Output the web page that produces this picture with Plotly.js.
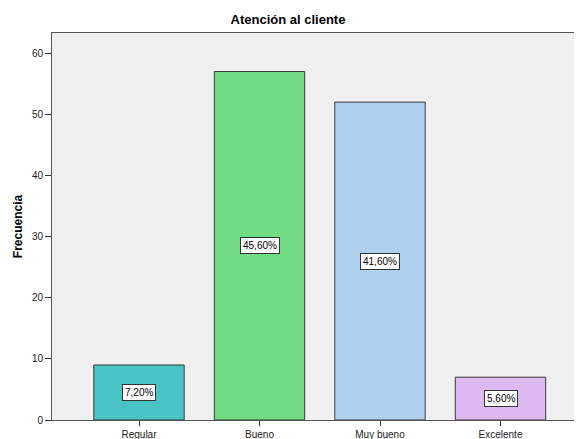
<!DOCTYPE html>
<html>
<head>
<meta charset="utf-8">
<script src="https://cdn.plot.ly/plotly-3.0.1.min.js"></script>
<style>html,body{margin:0;padding:0;background:#fff}#chart{width:576px;height:439px}</style>
</head>
<body>
<div id="chart"></div>
<script>
const categories = ["Regular", "Bueno", "Muy bueno", "Excelente"];
const frequencies = [9, 57, 52, 7];
const percentLabels = ["7,20%", "45,60%", "41,60%", "5,60%"];
const barColors = ["#48C3C6", "#70DD84", "#AED0EE", "#DDB9F1"];

const trace = {
  type: "bar",
  x: categories,
  y: frequencies,
  width: 0.75,
  marker: {color: barColors, line: {color: "#3a3a3a", width: 1}},
  hoverinfo: "none"
};

const annotations = categories.map((c, i) => ({
  x: c, y: frequencies[i] / 2, xref: "x", yref: "y",
  text: percentLabels[i], showarrow: false,
  bgcolor: "#ffffff", bordercolor: "#333333", borderwidth: 1, borderpad: 2,
  font: {family: "Liberation Sans, Arial, sans-serif", size: 10, color: "#000"}
}));

const layout = {
  width: 576, height: 439,
  margin: {l: 52, r: 2, t: 33, b: 19},
  paper_bgcolor: "#ffffff",
  plot_bgcolor: "#F0F0F0",
  showlegend: false,
  title: {text: "Atención al cliente", x: 0.5, xanchor: "center", y: 0.955, yanchor: "middle",
          font: {family: "Liberation Sans, Arial, sans-serif", size: 13, color: "#000", weight: "bold"}},
  xaxis: {
    type: "category", range: [-0.722, 3.61],
    showline: true, linecolor: "#555", linewidth: 1, mirror: true,
    ticks: "outside", ticklen: 5, tickcolor: "#333",
    showgrid: false, zeroline: false,
    tickfont: {family: "Liberation Sans, Arial, sans-serif", size: 10, color: "#222"}
  },
  yaxis: {
    range: [0, 63.3],
    tickvals: [0, 10, 20, 30, 40, 50, 60],
    showline: true, linecolor: "#555", linewidth: 1,
    ticks: "outside", ticklen: 6, tickcolor: "#333",
    showgrid: false, zeroline: false,
    tickfont: {family: "Liberation Sans, Arial, sans-serif", size: 10, color: "#222"},
    title: {text: "Frecuencia", standoff: 6,
            font: {family: "Liberation Sans, Arial, sans-serif", size: 12, color: "#000", weight: "bold"}}
  },
  annotations: annotations,
  bargap: 0.25
};

Plotly.newPlot("chart", [trace], layout, {displayModeBar: false, staticPlot: true});
</script>
</body>
</html>
